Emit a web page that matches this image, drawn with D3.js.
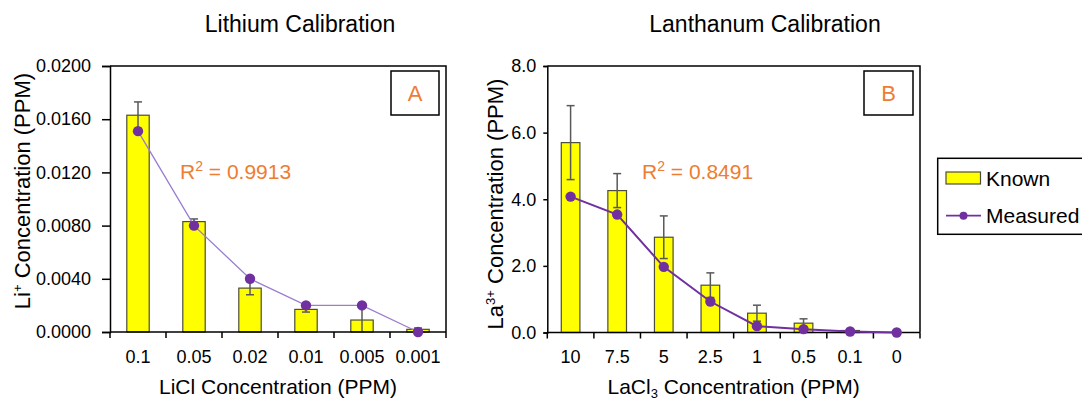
<!DOCTYPE html>
<html>
<head>
<meta charset="utf-8">
<script src="https://cdn.jsdelivr.net/npm/d3@7"></script>
<style>
  html, body { margin: 0; padding: 0; background: #fff; }
  svg { display: block; font-family: "Liberation Sans", Arial, sans-serif; }
</style>
</head>
<body>
<svg id="chart" width="1082" height="402"></svg>
<script>
// ---- Data ----
const liCategories = ["0.1", "0.05", "0.02", "0.01", "0.005", "0.001"];
const liKnown = [0.0163, 0.0083, 0.0033, 0.0017, 0.0009, 0.0002];
const liError = [0.0010, 0.0002, 0.0005, 0.0002, 0.0010, 0.0001];
const liMeasured = [0.0151, 0.0080, 0.0040, 0.0020, 0.0020, 0.0000];
const liYTicks = [0, 0.004, 0.008, 0.012, 0.016, 0.02];
const liYTickLabels = ["0.0000", "0.0040", "0.0080", "0.0120", "0.0160", "0.0200"];

const laCategories = ["10", "7.5", "5", "2.5", "1", "0.5", "0.1", "0"];
const laKnown = [5.70, 4.26, 2.86, 1.42, 0.58, 0.28, 0.06, 0];
const laError = [1.11, 0.51, 0.64, 0.37, 0.24, 0.13, 0.03, 0];
const laMeasured = [4.08, 3.54, 1.97, 0.93, 0.19, 0.10, 0.03, 0.00];
const laYTicks = [0, 2, 4, 6, 8];
const laYTickLabels = ["0.0", "2.0", "4.0", "6.0", "8.0"];

const legendLabels = ["Known", "Measured"];

// ---- Styles ----
const YELLOW = "#FFFF00";
const BAR_STROKE = "#4d4d3a";
const ERR = "#595959";
const PURPLE = "#7030A0";
const ORANGE = "#ED7D31";

const svg = d3.select("#chart");

function panel(cfg) {
  const g = svg.append("g");
  const x = d3.scaleBand().domain(cfg.categories).range([cfg.x0, cfg.x1]).paddingInner(0).paddingOuter(0);
  const y = d3.scaleLinear().domain([0, cfg.yMax]).range([cfg.y1, cfg.y0]);
  const bw = x.bandwidth() * 0.4;

  // frame (top and right)
  g.append("path")
    .attr("d", `M${cfg.x0},${cfg.y0}H${cfg.x1}V${cfg.y1}`)
    .attr("fill", "none").attr("stroke", "#000").attr("stroke-width", 1.5);

  // bars
  g.selectAll("rect.bar").data(cfg.categories).enter().append("rect")
    .attr("x", d => x(d) + x.bandwidth() / 2 - bw / 2)
    .attr("y", (d, i) => y(cfg.known[i]))
    .attr("width", bw)
    .attr("height", (d, i) => y(0) - y(cfg.known[i]))
    .attr("fill", YELLOW).attr("stroke", BAR_STROKE).attr("stroke-width", 1.2);

  // error bars
  const eg = g.append("g").attr("stroke", ERR).attr("stroke-width", 1.5);
  cfg.categories.forEach((c, i) => {
    if (!cfg.error[i]) return;
    const cx = x(c) + x.bandwidth() / 2;
    const hi = y(cfg.known[i] + cfg.error[i]);
    const lo = y(Math.max(0, cfg.known[i] - cfg.error[i]));
    eg.append("line").attr("x1", cx).attr("x2", cx).attr("y1", hi).attr("y2", lo);
    eg.append("line").attr("x1", cx - 4).attr("x2", cx + 4).attr("y1", hi).attr("y2", hi);
    if (cfg.known[i] - cfg.error[i] > 0)
      eg.append("line").attr("x1", cx - 4).attr("x2", cx + 4).attr("y1", lo).attr("y2", lo);
  });

  // y axis
  const yAxis = d3.axisLeft(y).tickValues(cfg.yTicks)
    .tickFormat((d, i) => cfg.yTickLabels[i]).tickSizeOuter(0).tickSize(cfg.tickLen).tickPadding(cfg.tickPad);
  const ya = g.append("g").attr("transform", `translate(${cfg.x0},0)`).call(yAxis);
  ya.select(".domain").attr("stroke", "#000").attr("stroke-width", 1.5);
  ya.selectAll(".tick line").attr("stroke", "#000").attr("stroke-width", 1.5);
  ya.selectAll(".tick text").attr("font-size", 18).attr("fill", "#000")
    .attr("font-family", "'Liberation Sans', Arial, sans-serif");

  // x axis (ticks at band boundaries)
  g.append("line").attr("x1", cfg.x0).attr("x2", cfg.x1).attr("y1", cfg.y1).attr("y2", cfg.y1)
    .attr("stroke", "#000").attr("stroke-width", 1.5);
  const bounds = cfg.categories.map(c => x(c)).concat([cfg.x1]);
  g.selectAll("line.xt").data(bounds).enter().append("line")
    .attr("x1", d => d).attr("x2", d => d).attr("y1", cfg.y1).attr("y2", cfg.y1 + 6)
    .attr("stroke", "#000").attr("stroke-width", 1.5);
  g.selectAll("text.xl").data(cfg.categories).enter().append("text")
    .attr("x", d => x(d) + x.bandwidth() / 2).attr("y", 363)
    .attr("text-anchor", "middle").attr("font-size", 18).attr("fill", "#000")
    .text(d => d);

  // measured line + points
  const line = d3.line().x((d, i) => x(cfg.categories[i]) + x.bandwidth() / 2).y(d => y(d));
  g.append("path").datum(cfg.measured).attr("d", line)
    .attr("fill", "none").attr("stroke", cfg.lineColor).attr("stroke-width", cfg.lineWidth);
  g.selectAll("circle").data(cfg.measured).enter().append("circle")
    .attr("cx", (d, i) => x(cfg.categories[i]) + x.bandwidth() / 2)
    .attr("cy", d => y(d)).attr("r", 5.2).attr("fill", PURPLE);

  // title
  g.append("text").attr("x", cfg.titleX).attr("y", 32).attr("text-anchor", "middle")
    .attr("font-size", 23).attr("fill", "#000").text(cfg.title);

  // R^2
  const r = g.append("text").attr("x", cfg.r2X).attr("y", 179).attr("font-size", 21).attr("fill", ORANGE);
  r.append("tspan").text("R");
  r.append("tspan").attr("font-size", 14).attr("dy", -8).text("2");
  r.append("tspan").attr("dy", 8).text(" = " + cfg.r2);

  // panel label box
  g.append("rect").attr("x", cfg.box[0]).attr("y", 71).attr("width", cfg.box[1] - cfg.box[0]).attr("height", 44)
    .attr("fill", "#fff").attr("stroke", "#000").attr("stroke-width", 1.5);
  g.append("text").attr("x", (cfg.box[0] + cfg.box[1]) / 2).attr("y", 100.5).attr("text-anchor", "middle")
    .attr("font-size", 22).attr("fill", ORANGE).text(cfg.label);

  // y title
  const yt = g.append("text").attr("transform", `translate(${cfg.yTitleX},${cfg.yTitleY}) rotate(-90)`)
    .attr("text-anchor", "middle").attr("font-size", 22).attr("fill", "#000");
  yt.append("tspan").text(cfg.yTitle[0]);
  yt.append("tspan").attr("font-size", 13).attr("dy", -8).text(cfg.yTitle[1]);
  yt.append("tspan").attr("dy", 8).text(cfg.yTitle[2]);

  // x title
  const xt = g.append("text").attr("x", (cfg.x0 + cfg.x1) / 2).attr("y", 394)
    .attr("text-anchor", "middle").attr("font-size", 21).attr("fill", "#000");
  xt.append("tspan").text(cfg.xTitle[0]);
  if (cfg.xTitle.length > 1) {
    xt.append("tspan").attr("font-size", 13).attr("dy", 4).text(cfg.xTitle[1]);
    xt.append("tspan").attr("dy", -4).text(cfg.xTitle[2]);
  }
}

panel({
  categories: liCategories, known: liKnown, error: liError, measured: liMeasured,
  yTicks: liYTicks, yTickLabels: liYTickLabels, yMax: 0.02,
  x0: 110, x1: 446, y0: 66, y1: 332, tickLen: 8, tickPad: 11,
  lineColor: "#9A7CD0", lineWidth: 1.3,
  title: "Lithium Calibration", titleX: 300,
  r2X: 180, r2: "0.9913", box: [391, 439], label: "A",
  yTitle: ["Li", "+", " Concentration (PPM)"], yTitleX: 30, yTitleY: 191,
  xTitle: ["LiCl Concentration (PPM)"]
});

panel({
  categories: laCategories, known: laKnown, error: laError, measured: laMeasured,
  yTicks: laYTicks, yTickLabels: laYTickLabels, yMax: 8,
  x0: 547.3, x1: 920, y0: 66, y1: 332.5, tickLen: 4, tickPad: 7,
  lineColor: PURPLE, lineWidth: 2,
  title: "Lanthanum Calibration", titleX: 765,
  r2X: 642, r2: "0.8491", box: [864, 913], label: "B",
  yTitle: ["La", "3+", " Concentration (PPM)"], yTitleX: 503, yTitleY: 204,
  xTitle: ["LaCl", "3", " Concentration (PPM)"]
});

// ---- Legend ----
const lg = svg.append("g");
lg.append("rect").attr("x", 937.7).attr("y", 158.3).attr("width", 150).attr("height", 76)
  .attr("fill", "#fff").attr("stroke", "#000").attr("stroke-width", 1.5);
lg.append("rect").attr("x", 946).attr("y", 172).attr("width", 34.5).attr("height", 12)
  .attr("fill", YELLOW).attr("stroke", BAR_STROKE).attr("stroke-width", 1.2);
lg.append("line").attr("x1", 946).attr("x2", 981).attr("y1", 215.7).attr("y2", 215.7)
  .attr("stroke", PURPLE).attr("stroke-width", 1.8);
lg.append("circle").attr("cx", 963.5).attr("cy", 215.7).attr("r", 4).attr("fill", PURPLE);
lg.selectAll("text").data(legendLabels).enter().append("text")
  .attr("x", 986).attr("y", (d, i) => 185.5 + i * 37.5)
  .attr("font-size", 21).attr("fill", "#000").text(d => d);
</script>
</body>
</html>
